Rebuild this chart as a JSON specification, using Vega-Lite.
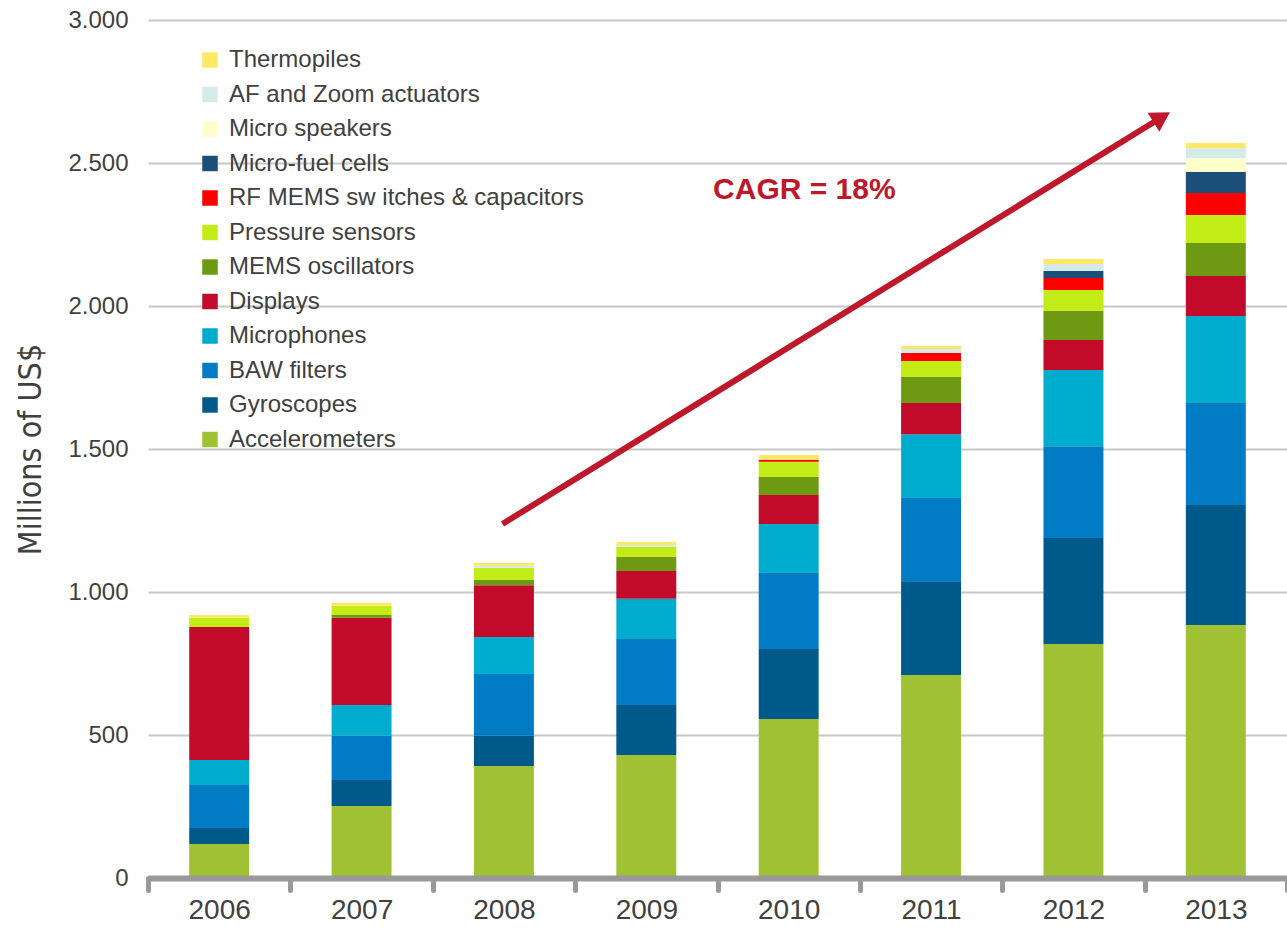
{
  "$schema": "https://vega.github.io/schema/vega-lite/v6.json",
  "width": 1139,
  "height": 858,
  "autosize": {"type": "none"},
  "padding": {"left": 148, "top": 20, "right": 0, "bottom": 50},
  "background": "white",
  "config": {
    "view": {"stroke": null},
    "font": "Liberation Sans"
  },
  "resolve": {"scale": {"x": "independent"}, "axis": {"x": "independent"}},
  "layer": [
    {
      "data": {
        "values": [
          {"year": "2006", "series": "Accelerometers", "value": 119},
          {"year": "2006", "series": "Gyroscopes", "value": 56},
          {"year": "2006", "series": "BAW filters", "value": 150},
          {"year": "2006", "series": "Microphones", "value": 88},
          {"year": "2006", "series": "Displays", "value": 465},
          {"year": "2006", "series": "Pressure sensors", "value": 32},
          {"year": "2006", "series": "Thermopiles", "value": 10},
          {"year": "2007", "series": "Accelerometers", "value": 252},
          {"year": "2007", "series": "Gyroscopes", "value": 91},
          {"year": "2007", "series": "BAW filters", "value": 154},
          {"year": "2007", "series": "Microphones", "value": 108},
          {"year": "2007", "series": "Displays", "value": 305},
          {"year": "2007", "series": "MEMS oscillators", "value": 10},
          {"year": "2007", "series": "Pressure sensors", "value": 32},
          {"year": "2007", "series": "Thermopiles", "value": 10},
          {"year": "2008", "series": "Accelerometers", "value": 392},
          {"year": "2008", "series": "Gyroscopes", "value": 105},
          {"year": "2008", "series": "BAW filters", "value": 216},
          {"year": "2008", "series": "Microphones", "value": 130},
          {"year": "2008", "series": "Displays", "value": 181},
          {"year": "2008", "series": "MEMS oscillators", "value": 18},
          {"year": "2008", "series": "Pressure sensors", "value": 43},
          {"year": "2008", "series": "AF and Zoom actuators", "value": 7},
          {"year": "2008", "series": "Thermopiles", "value": 9},
          {"year": "2009", "series": "Accelerometers", "value": 430},
          {"year": "2009", "series": "Gyroscopes", "value": 175},
          {"year": "2009", "series": "BAW filters", "value": 231},
          {"year": "2009", "series": "Microphones", "value": 140},
          {"year": "2009", "series": "Displays", "value": 97},
          {"year": "2009", "series": "MEMS oscillators", "value": 49},
          {"year": "2009", "series": "Pressure sensors", "value": 35},
          {"year": "2009", "series": "AF and Zoom actuators", "value": 7},
          {"year": "2009", "series": "Thermopiles", "value": 11},
          {"year": "2010", "series": "Accelerometers", "value": 556},
          {"year": "2010", "series": "Gyroscopes", "value": 245},
          {"year": "2010", "series": "BAW filters", "value": 265},
          {"year": "2010", "series": "Microphones", "value": 172},
          {"year": "2010", "series": "Displays", "value": 101},
          {"year": "2010", "series": "MEMS oscillators", "value": 63},
          {"year": "2010", "series": "Pressure sensors", "value": 53},
          {"year": "2010", "series": "RF MEMS sw itches & capacitors", "value": 7},
          {"year": "2010", "series": "Thermopiles", "value": 17},
          {"year": "2011", "series": "Accelerometers", "value": 710},
          {"year": "2011", "series": "Gyroscopes", "value": 325},
          {"year": "2011", "series": "BAW filters", "value": 294},
          {"year": "2011", "series": "Microphones", "value": 223},
          {"year": "2011", "series": "Displays", "value": 109},
          {"year": "2011", "series": "MEMS oscillators", "value": 91},
          {"year": "2011", "series": "Pressure sensors", "value": 56},
          {"year": "2011", "series": "RF MEMS sw itches & capacitors", "value": 28},
          {"year": "2011", "series": "AF and Zoom actuators", "value": 14},
          {"year": "2011", "series": "Thermopiles", "value": 10},
          {"year": "2012", "series": "Accelerometers", "value": 818},
          {"year": "2012", "series": "Gyroscopes", "value": 371},
          {"year": "2012", "series": "BAW filters", "value": 321},
          {"year": "2012", "series": "Microphones", "value": 266},
          {"year": "2012", "series": "Displays", "value": 105},
          {"year": "2012", "series": "MEMS oscillators", "value": 102},
          {"year": "2012", "series": "Pressure sensors", "value": 73},
          {"year": "2012", "series": "RF MEMS sw itches & capacitors", "value": 42},
          {"year": "2012", "series": "Micro-fuel cells", "value": 24},
          {"year": "2012", "series": "AF and Zoom actuators", "value": 25},
          {"year": "2012", "series": "Thermopiles", "value": 17},
          {"year": "2013", "series": "Accelerometers", "value": 885},
          {"year": "2013", "series": "Gyroscopes", "value": 419},
          {"year": "2013", "series": "BAW filters", "value": 357},
          {"year": "2013", "series": "Microphones", "value": 304},
          {"year": "2013", "series": "Displays", "value": 140},
          {"year": "2013", "series": "MEMS oscillators", "value": 115},
          {"year": "2013", "series": "Pressure sensors", "value": 98},
          {"year": "2013", "series": "RF MEMS sw itches & capacitors", "value": 77},
          {"year": "2013", "series": "Micro-fuel cells", "value": 74},
          {"year": "2013", "series": "Micro speakers", "value": 48},
          {"year": "2013", "series": "AF and Zoom actuators", "value": 35},
          {"year": "2013", "series": "Thermopiles", "value": 18}
        ]
      },
      "transform": [
        {"calculate": "indexof(['Accelerometers','Gyroscopes','BAW filters','Microphones','Displays','MEMS oscillators','Pressure sensors','RF MEMS sw itches & capacitors','Micro-fuel cells','Micro speakers','AF and Zoom actuators','Thermopiles'], datum.series)", "as": "k"}
      ],
      "mark": {"type": "bar", "width": {"band": 0.421}},
      "encoding": {
        "x": {
          "field": "year", "type": "nominal",
          "scale": {"paddingInner": 0, "paddingOuter": 0},
          "axis": {
            "title": null, "labelAngle": 0, "tickBand": "extent",
            "domainColor": "#999999", "domainWidth": 6,
            "tickColor": "#999999", "tickWidth": 5, "tickSize": 12, "tickCap": "round",
            "labelFontSize": 28, "labelColor": "#404040", "labelPadding": 6,
            "zindex": 1
          }
        },
        "y": {
          "field": "value", "type": "quantitative", "stack": "zero",
          "title": "Millions of US$",
          "scale": {"domain": [0, 3000], "nice": false},
          "axis": {
            "values": [0, 500, 1000, 1500, 2000, 2500, 3000],
            "labelExpr": "replace(format(datum.value, ','), ',', '.')",
            "domain": false, "ticks": false,
            "grid": true, "gridColor": "#c8c8c8", "gridWidth": 2,
            "labelFontSize": 24, "labelColor": "#404040", "labelPadding": 20,
            "titleFont": "'DejaVu Sans Condensed', 'Liberation Sans', sans-serif",
            "titleFontSize": 32, "titleFontWeight": "normal", "titleColor": "#404040",
            "titlePadding": 20
          }
        },
        "color": {
          "field": "series", "type": "nominal",
          "scale": {
            "domain": ["Thermopiles", "AF and Zoom actuators", "Micro speakers", "Micro-fuel cells", "RF MEMS sw itches & capacitors", "Pressure sensors", "MEMS oscillators", "Displays", "Microphones", "BAW filters", "Gyroscopes", "Accelerometers"],
            "range": ["#FFE866", "#D4EBEA", "#FFFFCC", "#1C4F78", "#FF0000", "#C2EB18", "#6D9913", "#C20A2B", "#00ACCE", "#017BC4", "#005A89", "#9FC133"]
          },
          "legend": {
            "title": null, "orient": "none", "legendX": 50, "legendY": 28,
            "symbolType": "square", "symbolSize": 240, "symbolStrokeWidth": 0,
            "labelFontSize": 24, "labelColor": "#404040", "labelOffset": 7,
            "labelLimit": 600,
            "rowPadding": 10.5, "padding": 0
          }
        },
        "order": {"field": "k", "type": "quantitative"}
      }
    },
    {
      "data": {"values": [{"x": 2007.99, "y": 1238, "x2": 2012.62, "y2": 2660}]},
      "mark": {"type": "rule", "color": "#C0182B", "strokeWidth": 6},
      "encoding": {
        "x": {"field": "x", "type": "quantitative", "scale": {"domain": [2005.5, 2013.5], "nice": false, "zero": false}, "axis": null},
        "x2": {"field": "x2"},
        "y": {"field": "y", "type": "quantitative", "title": "Millions of US$"},
        "y2": {"field": "y2"}
      }
    },
    {
      "data": {"values": [{"x": 2012.62, "y": 2660}]},
      "mark": {"type": "point", "shape": "triangle-up", "filled": true, "color": "#C0182B", "opacity": 1, "size": 500, "angle": 58.4},
      "encoding": {
        "x": {"field": "x", "type": "quantitative", "scale": {"domain": [2005.5, 2013.5], "nice": false, "zero": false}, "axis": null},
        "y": {"field": "y", "type": "quantitative", "title": "Millions of US$"}
      }
    },
    {
      "data": {"values": [{"x": 2010.11, "y": 2406, "label": "CAGR = 18%"}]},
      "mark": {"type": "text", "color": "#C0182B", "fontSize": 30, "fontWeight": "bold", "align": "center", "baseline": "middle"},
      "encoding": {
        "x": {"field": "x", "type": "quantitative", "scale": {"domain": [2005.5, 2013.5], "nice": false, "zero": false}, "axis": null},
        "y": {"field": "y", "type": "quantitative", "title": "Millions of US$"},
        "text": {"field": "label"}
      }
    }
  ]
}
